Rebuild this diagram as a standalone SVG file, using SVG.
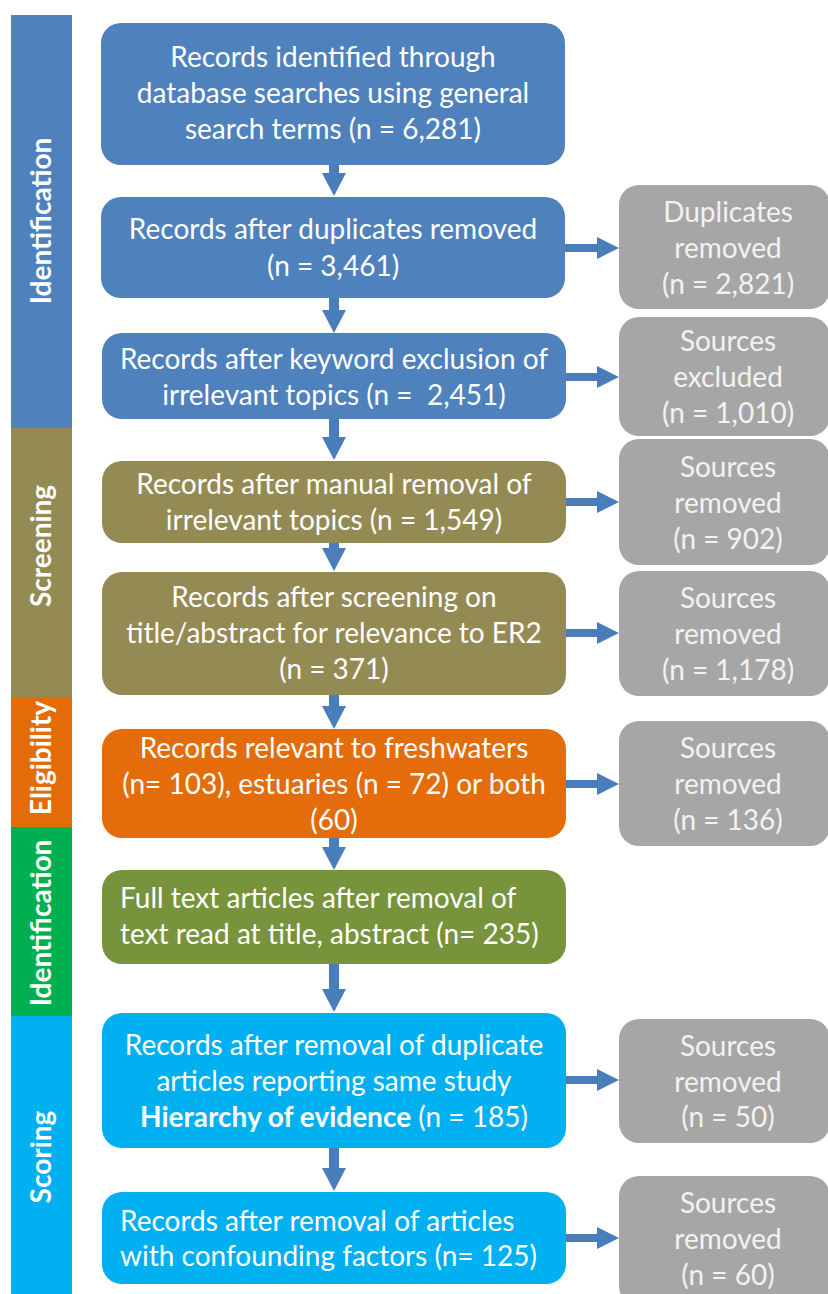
<svg xmlns="http://www.w3.org/2000/svg" width="828" height="1294" viewBox="0 0 828 1294">
<defs>
<style>
.t{font-family:Lato,"Open Sans","Liberation Sans",sans-serif;font-size:28px;fill:#ffffff;text-anchor:middle}
.l{text-anchor:start}
.g{fill:#f2f2f2}
.side{font-family:Lato,"Open Sans","Liberation Sans",sans-serif;font-size:28px;font-weight:bold;fill:#ffffff;text-anchor:middle}
.blue{fill:#4f81bd}
.olive{fill:#948a54}
.orange{fill:#e46c0a}
.green{fill:#77933c}
.cyan{fill:#00b0f0}
.grey{fill:#a6a6a6}
.vc{stroke:#4a7ebb;stroke-width:10;fill:none;marker-end:url(#hv)}
.hc{stroke:#4a7ebb;stroke-width:8;fill:none;marker-end:url(#hh)}
</style>
<marker id="hv" markerUnits="userSpaceOnUse" markerWidth="23" markerHeight="24" refX="0" refY="12" orient="auto" viewBox="0 0 23 24"><path d="M0,0 L23,12 L0,24 z" fill="#4a7ebb"/></marker>
<marker id="hh" markerUnits="userSpaceOnUse" markerWidth="22" markerHeight="22" refX="0" refY="11" orient="auto" viewBox="0 0 22 22"><path d="M0,0 L22,11 L0,22 z" fill="#4a7ebb"/></marker>
</defs>
<rect width="828" height="1294" fill="#ffffff"/>

<g id="phases">
<rect x="11" y="15" width="61" height="413" fill="#4f81bd"/>
<rect x="11" y="428" width="61" height="269" fill="#948a54"/>
<rect x="11" y="697" width="61" height="130" fill="#e36c09"/>
<rect x="11" y="827" width="61" height="189" fill="#00b050"/>
<rect x="11" y="1016" width="61" height="278" fill="#00b0f0"/>
<text class="side" transform="translate(51,221) rotate(-90)">Identification</text>
<text class="side" transform="translate(51,546) rotate(-90)">Screening</text>
<text class="side" transform="translate(51,758) rotate(-90)">Eligibility</text>
<text class="side" transform="translate(51,923) rotate(-90)">Identification</text>
<text class="side" transform="translate(51,1157) rotate(-90)">Scoring</text>
</g>

<g id="connectors">
<line class="vc" x1="334" y1="165" x2="334" y2="173"/>
<line class="vc" x1="334" y1="298" x2="334" y2="310"/>
<line class="vc" x1="334" y1="419" x2="334" y2="437"/>
<line class="vc" x1="334" y1="543" x2="334" y2="548"/>
<line class="vc" x1="334" y1="695" x2="334" y2="706"/>
<line class="vc" x1="334" y1="838" x2="334" y2="847"/>
<line class="vc" x1="334" y1="964" x2="334" y2="989"/>
<line class="vc" x1="334" y1="1148" x2="334" y2="1168"/>
<line class="hc" x1="565" y1="248" x2="597" y2="248"/>
<line class="hc" x1="566" y1="377" x2="597" y2="377"/>
<line class="hc" x1="566" y1="502" x2="597" y2="502"/>
<line class="hc" x1="566" y1="633" x2="597" y2="633"/>
<line class="hc" x1="566" y1="784" x2="597" y2="784"/>
<line class="hc" x1="566" y1="1080" x2="597" y2="1080"/>
<line class="hc" x1="566" y1="1238" x2="597" y2="1238"/>
</g>

<g id="n1"><rect class="blue" x="101" y="23" width="464" height="142" rx="20"/>
<text class="t" x="333" y="67">Records identified through</text>
<text class="t" x="333" y="103">database searches using general</text>
<text class="t" x="333" y="139">search terms (n = 6,281)</text></g>

<g id="n2"><rect class="blue" x="101" y="197" width="464" height="101" rx="20"/>
<text class="t" x="333" y="239">Records after duplicates removed</text>
<text class="t" x="333" y="276">(n = 3,461)</text></g>

<g id="n3"><rect class="blue" x="102" y="333" width="464" height="86" rx="20"/>
<text class="t" x="334" y="369">Records after keyword exclusion of</text>
<text class="t" x="334" y="405" style="white-space:pre">irrelevant topics (n =  2,451)</text></g>

<g id="n4"><rect class="olive" x="102" y="461" width="464" height="82" rx="20"/>
<text class="t" x="334" y="494">Records after manual removal of</text>
<text class="t" x="334" y="530">irrelevant topics (n = 1,549)</text></g>

<g id="n5"><rect class="olive" x="102" y="572" width="464" height="123" rx="20"/>
<text class="t" x="334" y="607">Records after screening on</text>
<text class="t" x="334" y="643">title/abstract for relevance to ER2</text>
<text class="t" x="334" y="679">(n = 371)</text></g>

<g id="n6"><rect class="orange" x="102" y="729" width="464" height="109" rx="20"/>
<text class="t" x="334" y="758">Records relevant to freshwaters</text>
<text class="t" x="334" y="794">(n= 103), estuaries (n = 72) or both</text>
<text class="t" x="334" y="830">(60)</text></g>

<g id="n7"><rect class="green" x="102" y="870" width="464" height="94" rx="20"/>
<text class="t l" x="120" y="908">Full text articles after removal of</text>
<text class="t l" x="120" y="944">text read at title, abstract (n= 235)</text></g>

<g id="n8"><rect class="cyan" x="102" y="1013" width="464" height="135" rx="20"/>
<text class="t" x="334" y="1055">Records after removal of duplicate</text>
<text class="t" x="334" y="1091">articles reporting same study</text>
<text class="t" x="334" y="1127"><tspan font-weight="bold">Hierarchy of evidence</tspan> (n = 185)</text></g>

<g id="n9"><rect class="cyan" x="102" y="1192" width="464" height="92" rx="20"/>
<text class="t l" x="120" y="1231">Records after removal of articles</text>
<text class="t l" x="120" y="1266">with confounding factors (n= 125)</text></g>

<g id="g1"><rect class="grey" x="619" y="185" width="211" height="124" rx="20"/>
<text class="t g" x="728" y="222">Duplicates</text>
<text class="t g" x="728" y="258">removed</text>
<text class="t g" x="728" y="294">(n = 2,821)</text></g>

<g id="g2"><rect class="grey" x="619" y="317" width="211" height="119" rx="20"/>
<text class="t g" x="728" y="351">Sources</text>
<text class="t g" x="728" y="387">excluded</text>
<text class="t g" x="728" y="423">(n = 1,010)</text></g>

<g id="g3"><rect class="grey" x="619" y="439" width="211" height="126" rx="20"/>
<text class="t g" x="728" y="477">Sources</text>
<text class="t g" x="728" y="513">removed</text>
<text class="t g" x="728" y="549">(n = 902)</text></g>

<g id="g4"><rect class="grey" x="619" y="571" width="211" height="125" rx="20"/>
<text class="t g" x="728" y="608">Sources</text>
<text class="t g" x="728" y="644">removed</text>
<text class="t g" x="728" y="680">(n = 1,178)</text></g>

<g id="g5"><rect class="grey" x="619" y="721" width="211" height="125" rx="20"/>
<text class="t g" x="728" y="758">Sources</text>
<text class="t g" x="728" y="794">removed</text>
<text class="t g" x="728" y="830">(n = 136)</text></g>

<g id="g6"><rect class="grey" x="619" y="1019" width="211" height="124" rx="20"/>
<text class="t g" x="728" y="1056">Sources</text>
<text class="t g" x="728" y="1092">removed</text>
<text class="t g" x="728" y="1127">(n = 50)</text></g>

<g id="g7"><rect class="grey" x="619" y="1176" width="211" height="130" rx="20"/>
<text class="t g" x="728" y="1213">Sources</text>
<text class="t g" x="728" y="1249">removed</text>
<text class="t g" x="728" y="1285">(n = 60)</text></g>
</svg>
